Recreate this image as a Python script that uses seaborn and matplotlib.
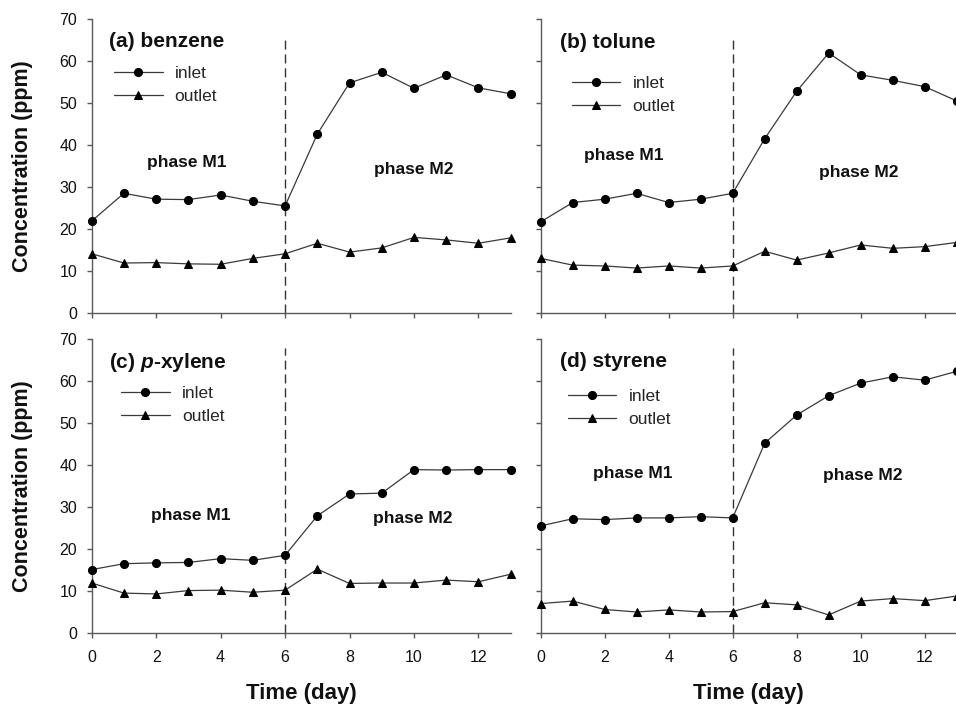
import numpy as np
import pandas as pd
import matplotlib
matplotlib.use("Agg")
import matplotlib.pyplot as plt
import seaborn as sns

# days 0..13
days = list(range(14))

benzene_inlet = [21.9, 28.5, 27.1, 27.0, 28.1, 26.6, 25.5, 42.6, 54.8, 57.3, 53.5, 56.7, 53.6, 52.2]
benzene_outlet = [14.1, 11.9, 12.0, 11.7, 11.6, 13.0, 14.1, 16.6, 14.5, 15.5, 18.0, 17.4, 16.6, 17.9]

tolune_inlet = [21.7, 26.3, 27.1, 28.5, 26.3, 27.1, 28.5, 41.5, 52.8, 61.9, 56.7, 55.4, 53.9, 50.5]
tolune_outlet = [13.0, 11.4, 11.2, 10.7, 11.2, 10.7, 11.2, 14.7, 12.6, 14.3, 16.2, 15.4, 15.8, 16.8]

xylene_inlet = [15.1, 16.5, 16.7, 16.8, 17.7, 17.3, 18.5, 27.9, 33.1, 33.3, 38.9, 38.8, 38.9, 38.9]
xylene_outlet = [11.9, 9.5, 9.3, 10.1, 10.2, 9.7, 10.2, 15.2, 11.8, 11.9, 11.9, 12.6, 12.2, 14.0]

styrene_inlet = [25.5, 27.2, 27.0, 27.4, 27.4, 27.7, 27.4, 45.2, 51.9, 56.5, 59.5, 61.0, 60.2, 62.3]
styrene_outlet = [7.0, 7.6, 5.6, 5.0, 5.5, 5.0, 5.1, 7.2, 6.7, 4.3, 7.6, 8.2, 7.7, 8.8]

panel_titles = ["(a) benzene", "(b) tolune", r"(c) $\mathbfit{p}$-xylene", "(d) styrene"]
series_labels = ["inlet", "outlet"]
phase_day = 6

sns.set_theme(style="ticks")
plt.rcParams["font.family"] = ["Liberation Sans", "DejaVu Sans"]
plt.rcParams["mathtext.fontset"] = "custom"
plt.rcParams["mathtext.bfit"] = "Liberation Sans:italic:bold"
plt.rcParams["mathtext.bf"] = "Liberation Sans:bold"
plt.rcParams["mathtext.rm"] = "Liberation Sans"

fig = plt.figure(figsize=(9.56, 7.05), dpi=100)

W, H = 956, 705
def axes_rect(left_px, top_px, width_px, height_px):
    return [left_px / W, 1 - (top_px + height_px) / H, width_px / W, height_px / H]

ax_a = fig.add_axes(axes_rect(91.7, 19, 419, 294))
ax_b = fig.add_axes(axes_rect(540.7, 19, 416, 294))
ax_c = fig.add_axes(axes_rect(91.7, 339, 419, 294))
ax_d = fig.add_axes(axes_rect(540.7, 339, 416, 294))

panels = [
    (ax_a, benzene_inlet, benzene_outlet),
    (ax_b, tolune_inlet, tolune_outlet),
    (ax_c, xylene_inlet, xylene_outlet),
    (ax_d, styrene_inlet, styrene_outlet),
]

# per-panel annotation placement (data coords / axes fractions)
title_pos = [(0.55, 64.7), (0.6, 64.3), (0.55, 64.4), (0.6, 64.6)]
m1_pos = [(2.96, 35.8), (2.6, 37.4), (3.08, 28.0), (2.88, 38.0)]
m2_pos = [(9.98, 34.1), (9.95, 33.4), (9.95, 27.2), (10.05, 37.6)]
legend_anchor = [(0.053, 0.777), (0.0745, 0.743), (0.070, 0.777), (0.065, 0.766)]
dash_top = [65.0, 65.6, 67.8, 67.8]

line_col = "#3a3a3a"
spine_col = "#5a5a5a"

for i, (ax, inlet, outlet) in enumerate(panels):
    df = pd.DataFrame({"day": days, "inlet": inlet, "outlet": outlet})
    sns.lineplot(data=df, x="day", y="inlet", ax=ax, label=series_labels[0],
                 color=line_col, lw=0.9, marker="o", markersize=5.8,
                 markerfacecolor="black", markeredgecolor="black", clip_on=False, zorder=3)
    sns.lineplot(data=df, x="day", y="outlet", ax=ax, label=series_labels[1],
                 color=line_col, lw=0.9, marker="^", markersize=6.0,
                 markerfacecolor="black", markeredgecolor="black", clip_on=False, zorder=3)

    ax.vlines(phase_day, 0, dash_top[i], colors="#333333", lw=1.0,
              linestyles=(0, (6.5, 3.5)), zorder=2)

    ax.set_xlim(0, 13)
    ax.set_ylim(0, 70)
    ax.set_xticks(range(0, 13, 2))
    ax.set_yticks(range(0, 71, 10))
    ax.set_xlabel("")
    ax.set_ylabel("")
    sns.despine(ax=ax)
    for sp in ["left", "bottom"]:
        ax.spines[sp].set_color(spine_col)
        ax.spines[sp].set_linewidth(1.0)
    ax.tick_params(axis="both", direction="out", length=3.5, width=1.0, color=spine_col,
                   labelsize=11.5, labelcolor="#111111")
    ax.tick_params(axis="x", pad=9)
    ax.tick_params(axis="y", pad=7)
    if i in (0, 1):
        ax.tick_params(axis="x", labelbottom=False)
    if i in (1, 3):
        ax.tick_params(axis="y", labelleft=False)

    ax.text(*title_pos[i], panel_titles[i], fontsize=15, fontweight="bold",
            ha="left", va="center", color="#111111")
    ax.text(*m1_pos[i], "phase M1", fontsize=12.5, fontweight="bold",
            ha="center", va="center", color="#111111")
    ax.text(*m2_pos[i], "phase M2", fontsize=12.5, fontweight="bold",
            ha="center", va="center", color="#111111")

    ax.legend(loc="center left", bbox_to_anchor=legend_anchor[i], frameon=False,
              fontsize=12.5, handlelength=2.8, handletextpad=0.7, labelspacing=0.45,
              borderpad=0, borderaxespad=0)

# shared axis labels
for ax in (ax_a, ax_c):
    pos = ax.get_position()
    fig.text(23 / W, pos.y0 + pos.height / 2, "Concentration (ppm)", rotation=90,
             ha="center", va="center", fontsize=15.5, fontweight="bold", color="#111111")
for ax in (ax_c, ax_d):
    pos = ax.get_position()
    fig.text(pos.x0 + pos.width / 2, 1 - 693 / H, "Time (day)",
             ha="center", va="center", fontsize=16, fontweight="bold", color="#111111")

fig.savefig("out.png", dpi=100)
